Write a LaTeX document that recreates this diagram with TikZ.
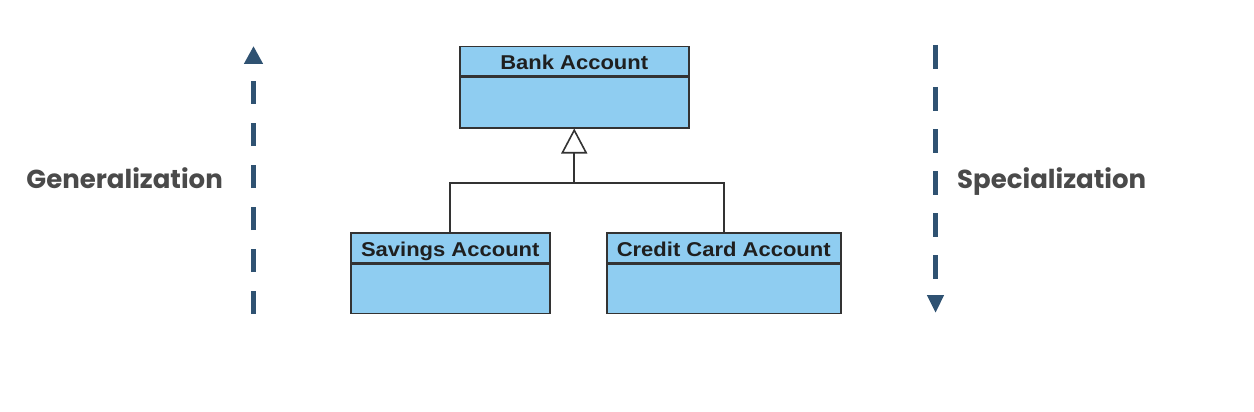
\documentclass[tikz,border=0pt]{standalone}
\usepackage{fontspec}
\setmainfont{Liberation Sans}
\newfontfamily\labfont{Poppins}
\newfontfamily\boxfont{Liberation Sans}[FakeStretch=1.1]
\usetikzlibrary{arrows.meta}
\definecolor{boxfill}{HTML}{8FCDF1}
\definecolor{arrowblue}{HTML}{2F5272}
\definecolor{labgray}{HTML}{4A4A4A}
\definecolor{edgecol}{HTML}{333333}
\begin{document}
\begin{tikzpicture}[x=1pt,y=-1pt,
  hdr/.style={draw=edgecol, line width=1.5pt, fill=boxfill, minimum height=29.5pt,
    inner sep=0pt, text height=16.5pt, text depth=0pt,
    font=\boxfont\bfseries\fontsize{20}{22}\selectfont, text=black!88, anchor=north west},
  bodybox/.style={draw=edgecol, line width=1.5pt, fill=boxfill, inner sep=0pt,
    minimum height=49pt, anchor=north west},
  lab/.style={inner sep=0pt, text=labgray, font=\labfont\bfseries\fontsize{26}{28}\selectfont},
  dirline/.style={draw=arrowblue, line width=5pt},
  genline/.style={draw=edgecol, line width=1.6pt}]
\useasboundingbox (0,0) rectangle (1254,412);
% classes
\node[hdr, minimum width=229pt] (bank) at (459,46) {Bank Account};
\node[bodybox, minimum width=229pt, minimum height=50pt] (bankbody) at (bank.south west) {};
\node[hdr, minimum width=199pt, minimum height=30pt] (sav) at (350,232) {Savings Account};
\node[bodybox, minimum width=199pt] (savbody) at (sav.south west) {};
\node[hdr, minimum width=234pt, minimum height=30pt] (cc) at (606,232) {Credit Card Account};
\node[bodybox, minimum width=234pt] (ccbody) at (cc.south west) {};
% generalization
\coordinate (j) at (bankbody.south |- 0,183);
\draw[genline] (sav.north) |- (j) -| (cc.north);
\draw[genline, -{Triangle[open, length=25pt, width=26pt]}] (j) -- (bankbody.south);
% side labels
\node[lab, anchor=base east] (gen) at (223,188) {Generalization};
\node[lab, anchor=base west] (spec) at (957,188) {Specialization};
% direction arrows
\coordinate (ga) at (253.5,314);
\coordinate (gb) at (253.5,46);
\draw[dirline, dash pattern=on 23pt off 19pt, -{Triangle[length=18pt, width=18pt]}, arrowblue] (ga) -- (gb);
\coordinate (sa) at (935.5,45);
\coordinate (sb) at (935.5,313);
\draw[dirline, dash pattern=on 24pt off 18pt, -{Triangle[length=18pt, width=16pt]}, arrowblue] (sa) -- (sb);
\end{tikzpicture}
\end{document}
